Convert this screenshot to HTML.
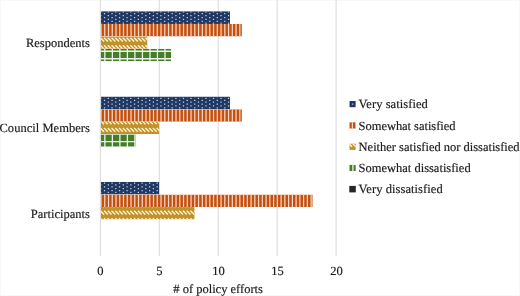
<!DOCTYPE html>
<html><head><meta charset="utf-8">
<style>html,body{margin:0;padding:0;background:#fff;}body{width:520px;height:296px;overflow:hidden;}svg{display:block;will-change:transform;}text{font-family:"Liberation Serif",serif;font-size:12.5px;fill:#1c1c1c;text-rendering:geometricPrecision;stroke:#1c1c1c;stroke-width:0.18px;}</style></head><body>
<svg width="520" height="296" viewBox="0 0 520 296">
<defs><clipPath id="c1"><rect x="100.8" y="11.2" width="129.3" height="12.75"/></clipPath><clipPath id="c2"><rect x="100.8" y="23.95" width="141.1" height="12.45"/></clipPath><clipPath id="c3"><rect x="100.8" y="36.4" width="46.7" height="12.45"/></clipPath><clipPath id="c4"><rect x="100.8" y="48.85" width="70.3" height="12.45"/></clipPath><clipPath id="c5"><rect x="100.8" y="96.53" width="129.3" height="12.75"/></clipPath><clipPath id="c6"><rect x="100.8" y="109.28" width="141.1" height="12.45"/></clipPath><clipPath id="c7"><rect x="100.8" y="121.73" width="58.5" height="12.45"/></clipPath><clipPath id="c8"><rect x="100.8" y="134.18" width="34.9" height="12.45"/></clipPath><clipPath id="c9"><rect x="100.8" y="181.86" width="58.5" height="12.75"/></clipPath><clipPath id="c10"><rect x="100.8" y="194.61" width="211.9" height="12.45"/></clipPath><clipPath id="c11"><rect x="100.8" y="207.06" width="93.9" height="12.45"/></clipPath><clipPath id="c12"><rect x="349.3" y="100.9" width="6.5" height="6.5"/></clipPath><clipPath id="c13"><rect x="349.3" y="122.15" width="6.5" height="6.5"/></clipPath><clipPath id="c14"><rect x="349.3" y="143.4" width="6.5" height="6.5"/></clipPath><clipPath id="c15"><rect x="349.3" y="164.65" width="6.5" height="6.5"/></clipPath><clipPath id="c16"><rect x="349.3" y="185.9" width="6.5" height="6.5"/></clipPath><filter id="bl" x="0" y="0" width="520" height="296" filterUnits="userSpaceOnUse" color-interpolation-filters="sRGB"><feConvolveMatrix order="3" kernelMatrix="0.00000 0.00000 0.00000 0.00000 1.00000 0.00000 0.00000 0.00000 0.00000" edgeMode="none" preserveAlpha="false"/></filter></defs>
<g>
<rect x="0.5" y="0.5" width="519" height="295" fill="none" stroke="#f8f8f8" stroke-width="1"/>
<g stroke="#d9d9d9" stroke-width="1">
<line x1="100.3" y1="0" x2="100.3" y2="256"/>
<line x1="159.25" y1="0" x2="159.25" y2="256"/>
<line x1="218.2" y1="0" x2="218.2" y2="256"/>
<line x1="277.15" y1="0" x2="277.15" y2="256"/>
<line x1="336.1" y1="0" x2="336.1" y2="256"/>
</g>
<g clip-path="url(#c1)">
<rect x="100.8" y="11.2" width="129.3" height="12.75" fill="#1f3864"/>
<path d="M92.64 7.48h1.25v1.25h-1.25zM100.15 7.48h1.25v1.25h-1.25zM107.67 7.48h1.25v1.25h-1.25zM115.18 7.48h1.25v1.25h-1.25zM122.7 7.48h1.25v1.25h-1.25zM130.22 7.48h1.25v1.25h-1.25zM137.73 7.48h1.25v1.25h-1.25zM145.25 7.48h1.25v1.25h-1.25zM152.76 7.48h1.25v1.25h-1.25zM160.28 7.48h1.25v1.25h-1.25zM167.8 7.48h1.25v1.25h-1.25zM175.31 7.48h1.25v1.25h-1.25zM182.83 7.48h1.25v1.25h-1.25zM190.34 7.48h1.25v1.25h-1.25zM197.86 7.48h1.25v1.25h-1.25zM205.38 7.48h1.25v1.25h-1.25zM212.89 7.48h1.25v1.25h-1.25zM220.41 7.48h1.25v1.25h-1.25zM227.92 7.48h1.25v1.25h-1.25zM235.44 7.48h1.25v1.25h-1.25zM96.39 9.36h1.25v1.25h-1.25zM103.91 9.36h1.25v1.25h-1.25zM111.43 9.36h1.25v1.25h-1.25zM118.94 9.36h1.25v1.25h-1.25zM126.46 9.36h1.25v1.25h-1.25zM133.97 9.36h1.25v1.25h-1.25zM141.49 9.36h1.25v1.25h-1.25zM149.01 9.36h1.25v1.25h-1.25zM156.52 9.36h1.25v1.25h-1.25zM164.04 9.36h1.25v1.25h-1.25zM171.56 9.36h1.25v1.25h-1.25zM179.07 9.36h1.25v1.25h-1.25zM186.59 9.36h1.25v1.25h-1.25zM194.1 9.36h1.25v1.25h-1.25zM201.62 9.36h1.25v1.25h-1.25zM209.13 9.36h1.25v1.25h-1.25zM216.65 9.36h1.25v1.25h-1.25zM224.17 9.36h1.25v1.25h-1.25zM231.68 9.36h1.25v1.25h-1.25zM239.2 9.36h1.25v1.25h-1.25zM92.64 11.24h1.25v1.25h-1.25zM100.15 11.24h1.25v1.25h-1.25zM107.67 11.24h1.25v1.25h-1.25zM115.18 11.24h1.25v1.25h-1.25zM122.7 11.24h1.25v1.25h-1.25zM130.22 11.24h1.25v1.25h-1.25zM137.73 11.24h1.25v1.25h-1.25zM145.25 11.24h1.25v1.25h-1.25zM152.76 11.24h1.25v1.25h-1.25zM160.28 11.24h1.25v1.25h-1.25zM167.8 11.24h1.25v1.25h-1.25zM175.31 11.24h1.25v1.25h-1.25zM182.83 11.24h1.25v1.25h-1.25zM190.34 11.24h1.25v1.25h-1.25zM197.86 11.24h1.25v1.25h-1.25zM205.38 11.24h1.25v1.25h-1.25zM212.89 11.24h1.25v1.25h-1.25zM220.41 11.24h1.25v1.25h-1.25zM227.92 11.24h1.25v1.25h-1.25zM235.44 11.24h1.25v1.25h-1.25zM96.39 13.12h1.25v1.25h-1.25zM103.91 13.12h1.25v1.25h-1.25zM111.43 13.12h1.25v1.25h-1.25zM118.94 13.12h1.25v1.25h-1.25zM126.46 13.12h1.25v1.25h-1.25zM133.97 13.12h1.25v1.25h-1.25zM141.49 13.12h1.25v1.25h-1.25zM149.01 13.12h1.25v1.25h-1.25zM156.52 13.12h1.25v1.25h-1.25zM164.04 13.12h1.25v1.25h-1.25zM171.56 13.12h1.25v1.25h-1.25zM179.07 13.12h1.25v1.25h-1.25zM186.59 13.12h1.25v1.25h-1.25zM194.1 13.12h1.25v1.25h-1.25zM201.62 13.12h1.25v1.25h-1.25zM209.13 13.12h1.25v1.25h-1.25zM216.65 13.12h1.25v1.25h-1.25zM224.17 13.12h1.25v1.25h-1.25zM231.68 13.12h1.25v1.25h-1.25zM239.2 13.12h1.25v1.25h-1.25zM92.64 15.01h1.25v1.25h-1.25zM100.15 15.01h1.25v1.25h-1.25zM107.67 15.01h1.25v1.25h-1.25zM115.18 15.01h1.25v1.25h-1.25zM122.7 15.01h1.25v1.25h-1.25zM130.22 15.01h1.25v1.25h-1.25zM137.73 15.01h1.25v1.25h-1.25zM145.25 15.01h1.25v1.25h-1.25zM152.76 15.01h1.25v1.25h-1.25zM160.28 15.01h1.25v1.25h-1.25zM167.8 15.01h1.25v1.25h-1.25zM175.31 15.01h1.25v1.25h-1.25zM182.83 15.01h1.25v1.25h-1.25zM190.34 15.01h1.25v1.25h-1.25zM197.86 15.01h1.25v1.25h-1.25zM205.38 15.01h1.25v1.25h-1.25zM212.89 15.01h1.25v1.25h-1.25zM220.41 15.01h1.25v1.25h-1.25zM227.92 15.01h1.25v1.25h-1.25zM235.44 15.01h1.25v1.25h-1.25zM96.39 16.89h1.25v1.25h-1.25zM103.91 16.89h1.25v1.25h-1.25zM111.43 16.89h1.25v1.25h-1.25zM118.94 16.89h1.25v1.25h-1.25zM126.46 16.89h1.25v1.25h-1.25zM133.97 16.89h1.25v1.25h-1.25zM141.49 16.89h1.25v1.25h-1.25zM149.01 16.89h1.25v1.25h-1.25zM156.52 16.89h1.25v1.25h-1.25zM164.04 16.89h1.25v1.25h-1.25zM171.56 16.89h1.25v1.25h-1.25zM179.07 16.89h1.25v1.25h-1.25zM186.59 16.89h1.25v1.25h-1.25zM194.1 16.89h1.25v1.25h-1.25zM201.62 16.89h1.25v1.25h-1.25zM209.13 16.89h1.25v1.25h-1.25zM216.65 16.89h1.25v1.25h-1.25zM224.17 16.89h1.25v1.25h-1.25zM231.68 16.89h1.25v1.25h-1.25zM239.2 16.89h1.25v1.25h-1.25zM92.64 18.77h1.25v1.25h-1.25zM100.15 18.77h1.25v1.25h-1.25zM107.67 18.77h1.25v1.25h-1.25zM115.18 18.77h1.25v1.25h-1.25zM122.7 18.77h1.25v1.25h-1.25zM130.22 18.77h1.25v1.25h-1.25zM137.73 18.77h1.25v1.25h-1.25zM145.25 18.77h1.25v1.25h-1.25zM152.76 18.77h1.25v1.25h-1.25zM160.28 18.77h1.25v1.25h-1.25zM167.8 18.77h1.25v1.25h-1.25zM175.31 18.77h1.25v1.25h-1.25zM182.83 18.77h1.25v1.25h-1.25zM190.34 18.77h1.25v1.25h-1.25zM197.86 18.77h1.25v1.25h-1.25zM205.38 18.77h1.25v1.25h-1.25zM212.89 18.77h1.25v1.25h-1.25zM220.41 18.77h1.25v1.25h-1.25zM227.92 18.77h1.25v1.25h-1.25zM235.44 18.77h1.25v1.25h-1.25zM96.39 20.65h1.25v1.25h-1.25zM103.91 20.65h1.25v1.25h-1.25zM111.43 20.65h1.25v1.25h-1.25zM118.94 20.65h1.25v1.25h-1.25zM126.46 20.65h1.25v1.25h-1.25zM133.97 20.65h1.25v1.25h-1.25zM141.49 20.65h1.25v1.25h-1.25zM149.01 20.65h1.25v1.25h-1.25zM156.52 20.65h1.25v1.25h-1.25zM164.04 20.65h1.25v1.25h-1.25zM171.56 20.65h1.25v1.25h-1.25zM179.07 20.65h1.25v1.25h-1.25zM186.59 20.65h1.25v1.25h-1.25zM194.1 20.65h1.25v1.25h-1.25zM201.62 20.65h1.25v1.25h-1.25zM209.13 20.65h1.25v1.25h-1.25zM216.65 20.65h1.25v1.25h-1.25zM224.17 20.65h1.25v1.25h-1.25zM231.68 20.65h1.25v1.25h-1.25zM239.2 20.65h1.25v1.25h-1.25zM92.64 22.53h1.25v1.25h-1.25zM100.15 22.53h1.25v1.25h-1.25zM107.67 22.53h1.25v1.25h-1.25zM115.18 22.53h1.25v1.25h-1.25zM122.7 22.53h1.25v1.25h-1.25zM130.22 22.53h1.25v1.25h-1.25zM137.73 22.53h1.25v1.25h-1.25zM145.25 22.53h1.25v1.25h-1.25zM152.76 22.53h1.25v1.25h-1.25zM160.28 22.53h1.25v1.25h-1.25zM167.8 22.53h1.25v1.25h-1.25zM175.31 22.53h1.25v1.25h-1.25zM182.83 22.53h1.25v1.25h-1.25zM190.34 22.53h1.25v1.25h-1.25zM197.86 22.53h1.25v1.25h-1.25zM205.38 22.53h1.25v1.25h-1.25zM212.89 22.53h1.25v1.25h-1.25zM220.41 22.53h1.25v1.25h-1.25zM227.92 22.53h1.25v1.25h-1.25zM235.44 22.53h1.25v1.25h-1.25zM96.39 24.41h1.25v1.25h-1.25zM103.91 24.41h1.25v1.25h-1.25zM111.43 24.41h1.25v1.25h-1.25zM118.94 24.41h1.25v1.25h-1.25zM126.46 24.41h1.25v1.25h-1.25zM133.97 24.41h1.25v1.25h-1.25zM141.49 24.41h1.25v1.25h-1.25zM149.01 24.41h1.25v1.25h-1.25zM156.52 24.41h1.25v1.25h-1.25zM164.04 24.41h1.25v1.25h-1.25zM171.56 24.41h1.25v1.25h-1.25zM179.07 24.41h1.25v1.25h-1.25zM186.59 24.41h1.25v1.25h-1.25zM194.1 24.41h1.25v1.25h-1.25zM201.62 24.41h1.25v1.25h-1.25zM209.13 24.41h1.25v1.25h-1.25zM216.65 24.41h1.25v1.25h-1.25zM224.17 24.41h1.25v1.25h-1.25zM231.68 24.41h1.25v1.25h-1.25zM239.2 24.41h1.25v1.25h-1.25zM92.64 26.29h1.25v1.25h-1.25zM100.15 26.29h1.25v1.25h-1.25zM107.67 26.29h1.25v1.25h-1.25zM115.18 26.29h1.25v1.25h-1.25zM122.7 26.29h1.25v1.25h-1.25zM130.22 26.29h1.25v1.25h-1.25zM137.73 26.29h1.25v1.25h-1.25zM145.25 26.29h1.25v1.25h-1.25zM152.76 26.29h1.25v1.25h-1.25zM160.28 26.29h1.25v1.25h-1.25zM167.8 26.29h1.25v1.25h-1.25zM175.31 26.29h1.25v1.25h-1.25zM182.83 26.29h1.25v1.25h-1.25zM190.34 26.29h1.25v1.25h-1.25zM197.86 26.29h1.25v1.25h-1.25zM205.38 26.29h1.25v1.25h-1.25zM212.89 26.29h1.25v1.25h-1.25zM220.41 26.29h1.25v1.25h-1.25zM227.92 26.29h1.25v1.25h-1.25zM235.44 26.29h1.25v1.25h-1.25zM96.39 28.17h1.25v1.25h-1.25zM103.91 28.17h1.25v1.25h-1.25zM111.43 28.17h1.25v1.25h-1.25zM118.94 28.17h1.25v1.25h-1.25zM126.46 28.17h1.25v1.25h-1.25zM133.97 28.17h1.25v1.25h-1.25zM141.49 28.17h1.25v1.25h-1.25zM149.01 28.17h1.25v1.25h-1.25zM156.52 28.17h1.25v1.25h-1.25zM164.04 28.17h1.25v1.25h-1.25zM171.56 28.17h1.25v1.25h-1.25zM179.07 28.17h1.25v1.25h-1.25zM186.59 28.17h1.25v1.25h-1.25zM194.1 28.17h1.25v1.25h-1.25zM201.62 28.17h1.25v1.25h-1.25zM209.13 28.17h1.25v1.25h-1.25zM216.65 28.17h1.25v1.25h-1.25zM224.17 28.17h1.25v1.25h-1.25zM231.68 28.17h1.25v1.25h-1.25zM239.2 28.17h1.25v1.25h-1.25z" fill="#c8d0e0"/>
</g>
<g clip-path="url(#c2)">
<rect x="100.8" y="23.95" width="141.1" height="12.45" fill="#c3500f"/>
<path d="M92.87 22.95h1.25v14.45h-1.25zM96.62 22.95h1.25v14.45h-1.25zM100.37 22.95h1.25v14.45h-1.25zM104.12 22.95h1.25v14.45h-1.25zM107.88 22.95h1.25v14.45h-1.25zM111.63 22.95h1.25v14.45h-1.25zM115.38 22.95h1.25v14.45h-1.25zM119.13 22.95h1.25v14.45h-1.25zM122.88 22.95h1.25v14.45h-1.25zM126.64 22.95h1.25v14.45h-1.25zM130.39 22.95h1.25v14.45h-1.25zM134.14 22.95h1.25v14.45h-1.25zM137.89 22.95h1.25v14.45h-1.25zM141.64 22.95h1.25v14.45h-1.25zM145.4 22.95h1.25v14.45h-1.25zM149.15 22.95h1.25v14.45h-1.25zM152.9 22.95h1.25v14.45h-1.25zM156.65 22.95h1.25v14.45h-1.25zM160.41 22.95h1.25v14.45h-1.25zM164.16 22.95h1.25v14.45h-1.25zM167.91 22.95h1.25v14.45h-1.25zM171.66 22.95h1.25v14.45h-1.25zM175.41 22.95h1.25v14.45h-1.25zM179.16 22.95h1.25v14.45h-1.25zM182.92 22.95h1.25v14.45h-1.25zM186.67 22.95h1.25v14.45h-1.25zM190.42 22.95h1.25v14.45h-1.25zM194.17 22.95h1.25v14.45h-1.25zM197.93 22.95h1.25v14.45h-1.25zM201.68 22.95h1.25v14.45h-1.25zM205.43 22.95h1.25v14.45h-1.25zM209.18 22.95h1.25v14.45h-1.25zM212.93 22.95h1.25v14.45h-1.25zM216.69 22.95h1.25v14.45h-1.25zM220.44 22.95h1.25v14.45h-1.25zM224.19 22.95h1.25v14.45h-1.25zM227.94 22.95h1.25v14.45h-1.25zM231.69 22.95h1.25v14.45h-1.25zM235.44 22.95h1.25v14.45h-1.25zM239.2 22.95h1.25v14.45h-1.25zM242.95 22.95h1.25v14.45h-1.25zM246.7 22.95h1.25v14.45h-1.25z" fill="#f7d6c4"/>
</g>
<g clip-path="url(#c3)">
<rect x="100.8" y="36.4" width="46.7" height="12.45" fill="#c1922a"/>
<path d="M89.02 22.6L92.78 26.36M92.78 22.6L96.53 26.36M96.53 22.6L100.29 26.36M100.29 22.6L104.05 26.36M104.05 22.6L107.81 26.36M107.81 22.6L111.57 26.36M111.57 22.6L115.32 26.36M115.32 22.6L119.08 26.36M119.08 22.6L122.84 26.36M122.84 22.6L126.6 26.36M126.6 22.6L130.36 26.36M130.36 22.6L134.11 26.36M134.11 22.6L137.87 26.36M137.87 22.6L141.63 26.36M141.63 22.6L145.39 26.36M145.39 22.6L149.15 26.36M149.15 22.6L152.9 26.36M152.9 22.6L156.66 26.36M89.02 30.12L92.78 33.89M92.78 30.12L96.53 33.89M96.53 30.12L100.29 33.89M100.29 30.12L104.05 33.89M104.05 30.12L107.81 33.89M107.81 30.12L111.57 33.89M111.57 30.12L115.32 33.89M115.32 30.12L119.08 33.89M119.08 30.12L122.84 33.89M122.84 30.12L126.6 33.89M126.6 30.12L130.36 33.89M130.36 30.12L134.11 33.89M134.11 30.12L137.87 33.89M137.87 30.12L141.63 33.89M141.63 30.12L145.39 33.89M145.39 30.12L149.15 33.89M149.15 30.12L152.9 33.89M152.9 30.12L156.66 33.89M89.02 37.65L92.78 41.41M92.78 37.65L96.53 41.41M96.53 37.65L100.29 41.41M100.29 37.65L104.05 41.41M104.05 37.65L107.81 41.41M107.81 37.65L111.57 41.41M111.57 37.65L115.32 41.41M115.32 37.65L119.08 41.41M119.08 37.65L122.84 41.41M122.84 37.65L126.6 41.41M126.6 37.65L130.36 41.41M130.36 37.65L134.11 41.41M134.11 37.65L137.87 41.41M137.87 37.65L141.63 41.41M141.63 37.65L145.39 41.41M145.39 37.65L149.15 41.41M149.15 37.65L152.9 41.41M152.9 37.65L156.66 41.41M89.02 45.17L92.78 48.93M92.78 45.17L96.53 48.93M96.53 45.17L100.29 48.93M100.29 45.17L104.05 48.93M104.05 45.17L107.81 48.93M107.81 45.17L111.57 48.93M111.57 45.17L115.32 48.93M115.32 45.17L119.08 48.93M119.08 45.17L122.84 48.93M122.84 45.17L126.6 48.93M126.6 45.17L130.36 48.93M130.36 45.17L134.11 48.93M134.11 45.17L137.87 48.93M137.87 45.17L141.63 48.93M141.63 45.17L145.39 48.93M145.39 45.17L149.15 48.93M149.15 45.17L152.9 48.93M152.9 45.17L156.66 48.93M89.02 52.7L92.78 56.46M92.78 52.7L96.53 56.46M96.53 52.7L100.29 56.46M100.29 52.7L104.05 56.46M104.05 52.7L107.81 56.46M107.81 52.7L111.57 56.46M111.57 52.7L115.32 56.46M115.32 52.7L119.08 56.46M119.08 52.7L122.84 56.46M122.84 52.7L126.6 56.46M126.6 52.7L130.36 56.46M130.36 52.7L134.11 56.46M134.11 52.7L137.87 56.46M137.87 52.7L141.63 56.46M141.63 52.7L145.39 56.46M145.39 52.7L149.15 56.46M149.15 52.7L152.9 56.46M152.9 52.7L156.66 56.46" stroke="#fff4d8" stroke-width="1.4" fill="none"/>
</g>
<g clip-path="url(#c4)">
<rect x="100.8" y="48.85" width="70.3" height="12.45" fill="#457d2a"/>
<path d="M89.17 47.85h1.3v14.45h-1.3zM96.68 47.85h1.3v14.45h-1.3zM104.2 47.85h1.3v14.45h-1.3zM111.72 47.85h1.3v14.45h-1.3zM119.23 47.85h1.3v14.45h-1.3zM126.75 47.85h1.3v14.45h-1.3zM134.26 47.85h1.3v14.45h-1.3zM141.78 47.85h1.3v14.45h-1.3zM149.3 47.85h1.3v14.45h-1.3zM156.81 47.85h1.3v14.45h-1.3zM164.33 47.85h1.3v14.45h-1.3zM171.84 47.85h1.3v14.45h-1.3zM179.36 47.85h1.3v14.45h-1.3zM99.8 35.55h72.3v1.3h-72.3zM99.8 43.08h72.3v1.3h-72.3zM99.8 50.6h72.3v1.3h-72.3zM99.8 58.12h72.3v1.3h-72.3zM99.8 65.65h72.3v1.3h-72.3z" fill="#eef4ea"/>
</g>
<g clip-path="url(#c5)">
<rect x="100.8" y="96.53" width="129.3" height="12.75" fill="#1f3864"/>
<path d="M96.39 92.13h1.25v1.25h-1.25zM103.91 92.13h1.25v1.25h-1.25zM111.43 92.13h1.25v1.25h-1.25zM118.94 92.13h1.25v1.25h-1.25zM126.46 92.13h1.25v1.25h-1.25zM133.97 92.13h1.25v1.25h-1.25zM141.49 92.13h1.25v1.25h-1.25zM149.01 92.13h1.25v1.25h-1.25zM156.52 92.13h1.25v1.25h-1.25zM164.04 92.13h1.25v1.25h-1.25zM171.56 92.13h1.25v1.25h-1.25zM179.07 92.13h1.25v1.25h-1.25zM186.59 92.13h1.25v1.25h-1.25zM194.1 92.13h1.25v1.25h-1.25zM201.62 92.13h1.25v1.25h-1.25zM209.13 92.13h1.25v1.25h-1.25zM216.65 92.13h1.25v1.25h-1.25zM224.17 92.13h1.25v1.25h-1.25zM231.68 92.13h1.25v1.25h-1.25zM239.2 92.13h1.25v1.25h-1.25zM92.64 94.01h1.25v1.25h-1.25zM100.15 94.01h1.25v1.25h-1.25zM107.67 94.01h1.25v1.25h-1.25zM115.18 94.01h1.25v1.25h-1.25zM122.7 94.01h1.25v1.25h-1.25zM130.22 94.01h1.25v1.25h-1.25zM137.73 94.01h1.25v1.25h-1.25zM145.25 94.01h1.25v1.25h-1.25zM152.76 94.01h1.25v1.25h-1.25zM160.28 94.01h1.25v1.25h-1.25zM167.8 94.01h1.25v1.25h-1.25zM175.31 94.01h1.25v1.25h-1.25zM182.83 94.01h1.25v1.25h-1.25zM190.34 94.01h1.25v1.25h-1.25zM197.86 94.01h1.25v1.25h-1.25zM205.38 94.01h1.25v1.25h-1.25zM212.89 94.01h1.25v1.25h-1.25zM220.41 94.01h1.25v1.25h-1.25zM227.92 94.01h1.25v1.25h-1.25zM235.44 94.01h1.25v1.25h-1.25zM96.39 95.89h1.25v1.25h-1.25zM103.91 95.89h1.25v1.25h-1.25zM111.43 95.89h1.25v1.25h-1.25zM118.94 95.89h1.25v1.25h-1.25zM126.46 95.89h1.25v1.25h-1.25zM133.97 95.89h1.25v1.25h-1.25zM141.49 95.89h1.25v1.25h-1.25zM149.01 95.89h1.25v1.25h-1.25zM156.52 95.89h1.25v1.25h-1.25zM164.04 95.89h1.25v1.25h-1.25zM171.56 95.89h1.25v1.25h-1.25zM179.07 95.89h1.25v1.25h-1.25zM186.59 95.89h1.25v1.25h-1.25zM194.1 95.89h1.25v1.25h-1.25zM201.62 95.89h1.25v1.25h-1.25zM209.13 95.89h1.25v1.25h-1.25zM216.65 95.89h1.25v1.25h-1.25zM224.17 95.89h1.25v1.25h-1.25zM231.68 95.89h1.25v1.25h-1.25zM239.2 95.89h1.25v1.25h-1.25zM92.64 97.77h1.25v1.25h-1.25zM100.15 97.77h1.25v1.25h-1.25zM107.67 97.77h1.25v1.25h-1.25zM115.18 97.77h1.25v1.25h-1.25zM122.7 97.77h1.25v1.25h-1.25zM130.22 97.77h1.25v1.25h-1.25zM137.73 97.77h1.25v1.25h-1.25zM145.25 97.77h1.25v1.25h-1.25zM152.76 97.77h1.25v1.25h-1.25zM160.28 97.77h1.25v1.25h-1.25zM167.8 97.77h1.25v1.25h-1.25zM175.31 97.77h1.25v1.25h-1.25zM182.83 97.77h1.25v1.25h-1.25zM190.34 97.77h1.25v1.25h-1.25zM197.86 97.77h1.25v1.25h-1.25zM205.38 97.77h1.25v1.25h-1.25zM212.89 97.77h1.25v1.25h-1.25zM220.41 97.77h1.25v1.25h-1.25zM227.92 97.77h1.25v1.25h-1.25zM235.44 97.77h1.25v1.25h-1.25zM96.39 99.65h1.25v1.25h-1.25zM103.91 99.65h1.25v1.25h-1.25zM111.43 99.65h1.25v1.25h-1.25zM118.94 99.65h1.25v1.25h-1.25zM126.46 99.65h1.25v1.25h-1.25zM133.97 99.65h1.25v1.25h-1.25zM141.49 99.65h1.25v1.25h-1.25zM149.01 99.65h1.25v1.25h-1.25zM156.52 99.65h1.25v1.25h-1.25zM164.04 99.65h1.25v1.25h-1.25zM171.56 99.65h1.25v1.25h-1.25zM179.07 99.65h1.25v1.25h-1.25zM186.59 99.65h1.25v1.25h-1.25zM194.1 99.65h1.25v1.25h-1.25zM201.62 99.65h1.25v1.25h-1.25zM209.13 99.65h1.25v1.25h-1.25zM216.65 99.65h1.25v1.25h-1.25zM224.17 99.65h1.25v1.25h-1.25zM231.68 99.65h1.25v1.25h-1.25zM239.2 99.65h1.25v1.25h-1.25zM92.64 101.53h1.25v1.25h-1.25zM100.15 101.53h1.25v1.25h-1.25zM107.67 101.53h1.25v1.25h-1.25zM115.18 101.53h1.25v1.25h-1.25zM122.7 101.53h1.25v1.25h-1.25zM130.22 101.53h1.25v1.25h-1.25zM137.73 101.53h1.25v1.25h-1.25zM145.25 101.53h1.25v1.25h-1.25zM152.76 101.53h1.25v1.25h-1.25zM160.28 101.53h1.25v1.25h-1.25zM167.8 101.53h1.25v1.25h-1.25zM175.31 101.53h1.25v1.25h-1.25zM182.83 101.53h1.25v1.25h-1.25zM190.34 101.53h1.25v1.25h-1.25zM197.86 101.53h1.25v1.25h-1.25zM205.38 101.53h1.25v1.25h-1.25zM212.89 101.53h1.25v1.25h-1.25zM220.41 101.53h1.25v1.25h-1.25zM227.92 101.53h1.25v1.25h-1.25zM235.44 101.53h1.25v1.25h-1.25zM96.39 103.41h1.25v1.25h-1.25zM103.91 103.41h1.25v1.25h-1.25zM111.43 103.41h1.25v1.25h-1.25zM118.94 103.41h1.25v1.25h-1.25zM126.46 103.41h1.25v1.25h-1.25zM133.97 103.41h1.25v1.25h-1.25zM141.49 103.41h1.25v1.25h-1.25zM149.01 103.41h1.25v1.25h-1.25zM156.52 103.41h1.25v1.25h-1.25zM164.04 103.41h1.25v1.25h-1.25zM171.56 103.41h1.25v1.25h-1.25zM179.07 103.41h1.25v1.25h-1.25zM186.59 103.41h1.25v1.25h-1.25zM194.1 103.41h1.25v1.25h-1.25zM201.62 103.41h1.25v1.25h-1.25zM209.13 103.41h1.25v1.25h-1.25zM216.65 103.41h1.25v1.25h-1.25zM224.17 103.41h1.25v1.25h-1.25zM231.68 103.41h1.25v1.25h-1.25zM239.2 103.41h1.25v1.25h-1.25zM92.64 105.29h1.25v1.25h-1.25zM100.15 105.29h1.25v1.25h-1.25zM107.67 105.29h1.25v1.25h-1.25zM115.18 105.29h1.25v1.25h-1.25zM122.7 105.29h1.25v1.25h-1.25zM130.22 105.29h1.25v1.25h-1.25zM137.73 105.29h1.25v1.25h-1.25zM145.25 105.29h1.25v1.25h-1.25zM152.76 105.29h1.25v1.25h-1.25zM160.28 105.29h1.25v1.25h-1.25zM167.8 105.29h1.25v1.25h-1.25zM175.31 105.29h1.25v1.25h-1.25zM182.83 105.29h1.25v1.25h-1.25zM190.34 105.29h1.25v1.25h-1.25zM197.86 105.29h1.25v1.25h-1.25zM205.38 105.29h1.25v1.25h-1.25zM212.89 105.29h1.25v1.25h-1.25zM220.41 105.29h1.25v1.25h-1.25zM227.92 105.29h1.25v1.25h-1.25zM235.44 105.29h1.25v1.25h-1.25zM96.39 107.17h1.25v1.25h-1.25zM103.91 107.17h1.25v1.25h-1.25zM111.43 107.17h1.25v1.25h-1.25zM118.94 107.17h1.25v1.25h-1.25zM126.46 107.17h1.25v1.25h-1.25zM133.97 107.17h1.25v1.25h-1.25zM141.49 107.17h1.25v1.25h-1.25zM149.01 107.17h1.25v1.25h-1.25zM156.52 107.17h1.25v1.25h-1.25zM164.04 107.17h1.25v1.25h-1.25zM171.56 107.17h1.25v1.25h-1.25zM179.07 107.17h1.25v1.25h-1.25zM186.59 107.17h1.25v1.25h-1.25zM194.1 107.17h1.25v1.25h-1.25zM201.62 107.17h1.25v1.25h-1.25zM209.13 107.17h1.25v1.25h-1.25zM216.65 107.17h1.25v1.25h-1.25zM224.17 107.17h1.25v1.25h-1.25zM231.68 107.17h1.25v1.25h-1.25zM239.2 107.17h1.25v1.25h-1.25zM92.64 109.06h1.25v1.25h-1.25zM100.15 109.06h1.25v1.25h-1.25zM107.67 109.06h1.25v1.25h-1.25zM115.18 109.06h1.25v1.25h-1.25zM122.7 109.06h1.25v1.25h-1.25zM130.22 109.06h1.25v1.25h-1.25zM137.73 109.06h1.25v1.25h-1.25zM145.25 109.06h1.25v1.25h-1.25zM152.76 109.06h1.25v1.25h-1.25zM160.28 109.06h1.25v1.25h-1.25zM167.8 109.06h1.25v1.25h-1.25zM175.31 109.06h1.25v1.25h-1.25zM182.83 109.06h1.25v1.25h-1.25zM190.34 109.06h1.25v1.25h-1.25zM197.86 109.06h1.25v1.25h-1.25zM205.38 109.06h1.25v1.25h-1.25zM212.89 109.06h1.25v1.25h-1.25zM220.41 109.06h1.25v1.25h-1.25zM227.92 109.06h1.25v1.25h-1.25zM235.44 109.06h1.25v1.25h-1.25zM96.39 110.94h1.25v1.25h-1.25zM103.91 110.94h1.25v1.25h-1.25zM111.43 110.94h1.25v1.25h-1.25zM118.94 110.94h1.25v1.25h-1.25zM126.46 110.94h1.25v1.25h-1.25zM133.97 110.94h1.25v1.25h-1.25zM141.49 110.94h1.25v1.25h-1.25zM149.01 110.94h1.25v1.25h-1.25zM156.52 110.94h1.25v1.25h-1.25zM164.04 110.94h1.25v1.25h-1.25zM171.56 110.94h1.25v1.25h-1.25zM179.07 110.94h1.25v1.25h-1.25zM186.59 110.94h1.25v1.25h-1.25zM194.1 110.94h1.25v1.25h-1.25zM201.62 110.94h1.25v1.25h-1.25zM209.13 110.94h1.25v1.25h-1.25zM216.65 110.94h1.25v1.25h-1.25zM224.17 110.94h1.25v1.25h-1.25zM231.68 110.94h1.25v1.25h-1.25zM239.2 110.94h1.25v1.25h-1.25zM92.64 112.82h1.25v1.25h-1.25zM100.15 112.82h1.25v1.25h-1.25zM107.67 112.82h1.25v1.25h-1.25zM115.18 112.82h1.25v1.25h-1.25zM122.7 112.82h1.25v1.25h-1.25zM130.22 112.82h1.25v1.25h-1.25zM137.73 112.82h1.25v1.25h-1.25zM145.25 112.82h1.25v1.25h-1.25zM152.76 112.82h1.25v1.25h-1.25zM160.28 112.82h1.25v1.25h-1.25zM167.8 112.82h1.25v1.25h-1.25zM175.31 112.82h1.25v1.25h-1.25zM182.83 112.82h1.25v1.25h-1.25zM190.34 112.82h1.25v1.25h-1.25zM197.86 112.82h1.25v1.25h-1.25zM205.38 112.82h1.25v1.25h-1.25zM212.89 112.82h1.25v1.25h-1.25zM220.41 112.82h1.25v1.25h-1.25zM227.92 112.82h1.25v1.25h-1.25zM235.44 112.82h1.25v1.25h-1.25z" fill="#c8d0e0"/>
</g>
<g clip-path="url(#c6)">
<rect x="100.8" y="109.28" width="141.1" height="12.45" fill="#c3500f"/>
<path d="M92.87 108.28h1.25v14.45h-1.25zM96.62 108.28h1.25v14.45h-1.25zM100.37 108.28h1.25v14.45h-1.25zM104.12 108.28h1.25v14.45h-1.25zM107.88 108.28h1.25v14.45h-1.25zM111.63 108.28h1.25v14.45h-1.25zM115.38 108.28h1.25v14.45h-1.25zM119.13 108.28h1.25v14.45h-1.25zM122.88 108.28h1.25v14.45h-1.25zM126.64 108.28h1.25v14.45h-1.25zM130.39 108.28h1.25v14.45h-1.25zM134.14 108.28h1.25v14.45h-1.25zM137.89 108.28h1.25v14.45h-1.25zM141.64 108.28h1.25v14.45h-1.25zM145.4 108.28h1.25v14.45h-1.25zM149.15 108.28h1.25v14.45h-1.25zM152.9 108.28h1.25v14.45h-1.25zM156.65 108.28h1.25v14.45h-1.25zM160.41 108.28h1.25v14.45h-1.25zM164.16 108.28h1.25v14.45h-1.25zM167.91 108.28h1.25v14.45h-1.25zM171.66 108.28h1.25v14.45h-1.25zM175.41 108.28h1.25v14.45h-1.25zM179.16 108.28h1.25v14.45h-1.25zM182.92 108.28h1.25v14.45h-1.25zM186.67 108.28h1.25v14.45h-1.25zM190.42 108.28h1.25v14.45h-1.25zM194.17 108.28h1.25v14.45h-1.25zM197.93 108.28h1.25v14.45h-1.25zM201.68 108.28h1.25v14.45h-1.25zM205.43 108.28h1.25v14.45h-1.25zM209.18 108.28h1.25v14.45h-1.25zM212.93 108.28h1.25v14.45h-1.25zM216.69 108.28h1.25v14.45h-1.25zM220.44 108.28h1.25v14.45h-1.25zM224.19 108.28h1.25v14.45h-1.25zM227.94 108.28h1.25v14.45h-1.25zM231.69 108.28h1.25v14.45h-1.25zM235.44 108.28h1.25v14.45h-1.25zM239.2 108.28h1.25v14.45h-1.25zM242.95 108.28h1.25v14.45h-1.25zM246.7 108.28h1.25v14.45h-1.25z" fill="#f7d6c4"/>
</g>
<g clip-path="url(#c7)">
<rect x="100.8" y="121.73" width="58.5" height="12.45" fill="#c1922a"/>
<path d="M89.02 105.36L92.78 109.13M92.78 105.36L96.53 109.13M96.53 105.36L100.29 109.13M100.29 105.36L104.05 109.13M104.05 105.36L107.81 109.13M107.81 105.36L111.57 109.13M111.57 105.36L115.32 109.13M115.32 105.36L119.08 109.13M119.08 105.36L122.84 109.13M122.84 105.36L126.6 109.13M126.6 105.36L130.36 109.13M130.36 105.36L134.11 109.13M134.11 105.36L137.87 109.13M137.87 105.36L141.63 109.13M141.63 105.36L145.39 109.13M145.39 105.36L149.15 109.13M149.15 105.36L152.9 109.13M152.9 105.36L156.66 109.13M156.66 105.36L160.42 109.13M160.42 105.36L164.18 109.13M164.18 105.36L167.94 109.13M89.02 112.89L92.78 116.65M92.78 112.89L96.53 116.65M96.53 112.89L100.29 116.65M100.29 112.89L104.05 116.65M104.05 112.89L107.81 116.65M107.81 112.89L111.57 116.65M111.57 112.89L115.32 116.65M115.32 112.89L119.08 116.65M119.08 112.89L122.84 116.65M122.84 112.89L126.6 116.65M126.6 112.89L130.36 116.65M130.36 112.89L134.11 116.65M134.11 112.89L137.87 116.65M137.87 112.89L141.63 116.65M141.63 112.89L145.39 116.65M145.39 112.89L149.15 116.65M149.15 112.89L152.9 116.65M152.9 112.89L156.66 116.65M156.66 112.89L160.42 116.65M160.42 112.89L164.18 116.65M164.18 112.89L167.94 116.65M89.02 120.41L92.78 124.17M92.78 120.41L96.53 124.17M96.53 120.41L100.29 124.17M100.29 120.41L104.05 124.17M104.05 120.41L107.81 124.17M107.81 120.41L111.57 124.17M111.57 120.41L115.32 124.17M115.32 120.41L119.08 124.17M119.08 120.41L122.84 124.17M122.84 120.41L126.6 124.17M126.6 120.41L130.36 124.17M130.36 120.41L134.11 124.17M134.11 120.41L137.87 124.17M137.87 120.41L141.63 124.17M141.63 120.41L145.39 124.17M145.39 120.41L149.15 124.17M149.15 120.41L152.9 124.17M152.9 120.41L156.66 124.17M156.66 120.41L160.42 124.17M160.42 120.41L164.18 124.17M164.18 120.41L167.94 124.17M89.02 127.94L92.78 131.7M92.78 127.94L96.53 131.7M96.53 127.94L100.29 131.7M100.29 127.94L104.05 131.7M104.05 127.94L107.81 131.7M107.81 127.94L111.57 131.7M111.57 127.94L115.32 131.7M115.32 127.94L119.08 131.7M119.08 127.94L122.84 131.7M122.84 127.94L126.6 131.7M126.6 127.94L130.36 131.7M130.36 127.94L134.11 131.7M134.11 127.94L137.87 131.7M137.87 127.94L141.63 131.7M141.63 127.94L145.39 131.7M145.39 127.94L149.15 131.7M149.15 127.94L152.9 131.7M152.9 127.94L156.66 131.7M156.66 127.94L160.42 131.7M160.42 127.94L164.18 131.7M164.18 127.94L167.94 131.7M89.02 135.46L92.78 139.22M92.78 135.46L96.53 139.22M96.53 135.46L100.29 139.22M100.29 135.46L104.05 139.22M104.05 135.46L107.81 139.22M107.81 135.46L111.57 139.22M111.57 135.46L115.32 139.22M115.32 135.46L119.08 139.22M119.08 135.46L122.84 139.22M122.84 135.46L126.6 139.22M126.6 135.46L130.36 139.22M130.36 135.46L134.11 139.22M134.11 135.46L137.87 139.22M137.87 135.46L141.63 139.22M141.63 135.46L145.39 139.22M145.39 135.46L149.15 139.22M149.15 135.46L152.9 139.22M152.9 135.46L156.66 139.22M156.66 135.46L160.42 139.22M160.42 135.46L164.18 139.22M164.18 135.46L167.94 139.22M89.02 142.98L92.78 146.75M92.78 142.98L96.53 146.75M96.53 142.98L100.29 146.75M100.29 142.98L104.05 146.75M104.05 142.98L107.81 146.75M107.81 142.98L111.57 146.75M111.57 142.98L115.32 146.75M115.32 142.98L119.08 146.75M119.08 142.98L122.84 146.75M122.84 142.98L126.6 146.75M126.6 142.98L130.36 146.75M130.36 142.98L134.11 146.75M134.11 142.98L137.87 146.75M137.87 142.98L141.63 146.75M141.63 142.98L145.39 146.75M145.39 142.98L149.15 146.75M149.15 142.98L152.9 146.75M152.9 142.98L156.66 146.75M156.66 142.98L160.42 146.75M160.42 142.98L164.18 146.75M164.18 142.98L167.94 146.75" stroke="#fff4d8" stroke-width="1.4" fill="none"/>
</g>
<g clip-path="url(#c8)">
<rect x="100.8" y="134.18" width="34.9" height="12.45" fill="#457d2a"/>
<path d="M89.17 133.18h1.3v14.45h-1.3zM96.68 133.18h1.3v14.45h-1.3zM104.2 133.18h1.3v14.45h-1.3zM111.72 133.18h1.3v14.45h-1.3zM119.23 133.18h1.3v14.45h-1.3zM126.75 133.18h1.3v14.45h-1.3zM134.26 133.18h1.3v14.45h-1.3zM141.78 133.18h1.3v14.45h-1.3zM99.8 118.32h36.9v1.3h-36.9zM99.8 125.84h36.9v1.3h-36.9zM99.8 133.36h36.9v1.3h-36.9zM99.8 140.89h36.9v1.3h-36.9zM99.8 148.41h36.9v1.3h-36.9zM99.8 155.94h36.9v1.3h-36.9z" fill="#eef4ea"/>
</g>
<g clip-path="url(#c9)">
<rect x="100.8" y="181.86" width="58.5" height="12.75" fill="#1f3864"/>
<path d="M92.64 176.77h1.25v1.25h-1.25zM100.15 176.77h1.25v1.25h-1.25zM107.67 176.77h1.25v1.25h-1.25zM115.18 176.77h1.25v1.25h-1.25zM122.7 176.77h1.25v1.25h-1.25zM130.22 176.77h1.25v1.25h-1.25zM137.73 176.77h1.25v1.25h-1.25zM145.25 176.77h1.25v1.25h-1.25zM152.76 176.77h1.25v1.25h-1.25zM160.28 176.77h1.25v1.25h-1.25zM167.8 176.77h1.25v1.25h-1.25zM96.39 178.65h1.25v1.25h-1.25zM103.91 178.65h1.25v1.25h-1.25zM111.43 178.65h1.25v1.25h-1.25zM118.94 178.65h1.25v1.25h-1.25zM126.46 178.65h1.25v1.25h-1.25zM133.97 178.65h1.25v1.25h-1.25zM141.49 178.65h1.25v1.25h-1.25zM149.01 178.65h1.25v1.25h-1.25zM156.52 178.65h1.25v1.25h-1.25zM164.04 178.65h1.25v1.25h-1.25zM92.64 180.53h1.25v1.25h-1.25zM100.15 180.53h1.25v1.25h-1.25zM107.67 180.53h1.25v1.25h-1.25zM115.18 180.53h1.25v1.25h-1.25zM122.7 180.53h1.25v1.25h-1.25zM130.22 180.53h1.25v1.25h-1.25zM137.73 180.53h1.25v1.25h-1.25zM145.25 180.53h1.25v1.25h-1.25zM152.76 180.53h1.25v1.25h-1.25zM160.28 180.53h1.25v1.25h-1.25zM167.8 180.53h1.25v1.25h-1.25zM96.39 182.41h1.25v1.25h-1.25zM103.91 182.41h1.25v1.25h-1.25zM111.43 182.41h1.25v1.25h-1.25zM118.94 182.41h1.25v1.25h-1.25zM126.46 182.41h1.25v1.25h-1.25zM133.97 182.41h1.25v1.25h-1.25zM141.49 182.41h1.25v1.25h-1.25zM149.01 182.41h1.25v1.25h-1.25zM156.52 182.41h1.25v1.25h-1.25zM164.04 182.41h1.25v1.25h-1.25zM92.64 184.3h1.25v1.25h-1.25zM100.15 184.3h1.25v1.25h-1.25zM107.67 184.3h1.25v1.25h-1.25zM115.18 184.3h1.25v1.25h-1.25zM122.7 184.3h1.25v1.25h-1.25zM130.22 184.3h1.25v1.25h-1.25zM137.73 184.3h1.25v1.25h-1.25zM145.25 184.3h1.25v1.25h-1.25zM152.76 184.3h1.25v1.25h-1.25zM160.28 184.3h1.25v1.25h-1.25zM167.8 184.3h1.25v1.25h-1.25zM96.39 186.18h1.25v1.25h-1.25zM103.91 186.18h1.25v1.25h-1.25zM111.43 186.18h1.25v1.25h-1.25zM118.94 186.18h1.25v1.25h-1.25zM126.46 186.18h1.25v1.25h-1.25zM133.97 186.18h1.25v1.25h-1.25zM141.49 186.18h1.25v1.25h-1.25zM149.01 186.18h1.25v1.25h-1.25zM156.52 186.18h1.25v1.25h-1.25zM164.04 186.18h1.25v1.25h-1.25zM92.64 188.06h1.25v1.25h-1.25zM100.15 188.06h1.25v1.25h-1.25zM107.67 188.06h1.25v1.25h-1.25zM115.18 188.06h1.25v1.25h-1.25zM122.7 188.06h1.25v1.25h-1.25zM130.22 188.06h1.25v1.25h-1.25zM137.73 188.06h1.25v1.25h-1.25zM145.25 188.06h1.25v1.25h-1.25zM152.76 188.06h1.25v1.25h-1.25zM160.28 188.06h1.25v1.25h-1.25zM167.8 188.06h1.25v1.25h-1.25zM96.39 189.94h1.25v1.25h-1.25zM103.91 189.94h1.25v1.25h-1.25zM111.43 189.94h1.25v1.25h-1.25zM118.94 189.94h1.25v1.25h-1.25zM126.46 189.94h1.25v1.25h-1.25zM133.97 189.94h1.25v1.25h-1.25zM141.49 189.94h1.25v1.25h-1.25zM149.01 189.94h1.25v1.25h-1.25zM156.52 189.94h1.25v1.25h-1.25zM164.04 189.94h1.25v1.25h-1.25zM92.64 191.82h1.25v1.25h-1.25zM100.15 191.82h1.25v1.25h-1.25zM107.67 191.82h1.25v1.25h-1.25zM115.18 191.82h1.25v1.25h-1.25zM122.7 191.82h1.25v1.25h-1.25zM130.22 191.82h1.25v1.25h-1.25zM137.73 191.82h1.25v1.25h-1.25zM145.25 191.82h1.25v1.25h-1.25zM152.76 191.82h1.25v1.25h-1.25zM160.28 191.82h1.25v1.25h-1.25zM167.8 191.82h1.25v1.25h-1.25zM96.39 193.7h1.25v1.25h-1.25zM103.91 193.7h1.25v1.25h-1.25zM111.43 193.7h1.25v1.25h-1.25zM118.94 193.7h1.25v1.25h-1.25zM126.46 193.7h1.25v1.25h-1.25zM133.97 193.7h1.25v1.25h-1.25zM141.49 193.7h1.25v1.25h-1.25zM149.01 193.7h1.25v1.25h-1.25zM156.52 193.7h1.25v1.25h-1.25zM164.04 193.7h1.25v1.25h-1.25zM92.64 195.58h1.25v1.25h-1.25zM100.15 195.58h1.25v1.25h-1.25zM107.67 195.58h1.25v1.25h-1.25zM115.18 195.58h1.25v1.25h-1.25zM122.7 195.58h1.25v1.25h-1.25zM130.22 195.58h1.25v1.25h-1.25zM137.73 195.58h1.25v1.25h-1.25zM145.25 195.58h1.25v1.25h-1.25zM152.76 195.58h1.25v1.25h-1.25zM160.28 195.58h1.25v1.25h-1.25zM167.8 195.58h1.25v1.25h-1.25zM96.39 197.46h1.25v1.25h-1.25zM103.91 197.46h1.25v1.25h-1.25zM111.43 197.46h1.25v1.25h-1.25zM118.94 197.46h1.25v1.25h-1.25zM126.46 197.46h1.25v1.25h-1.25zM133.97 197.46h1.25v1.25h-1.25zM141.49 197.46h1.25v1.25h-1.25zM149.01 197.46h1.25v1.25h-1.25zM156.52 197.46h1.25v1.25h-1.25zM164.04 197.46h1.25v1.25h-1.25z" fill="#c8d0e0"/>
</g>
<g clip-path="url(#c10)">
<rect x="100.8" y="194.61" width="211.9" height="12.45" fill="#c3500f"/>
<path d="M92.87 193.61h1.25v14.45h-1.25zM96.62 193.61h1.25v14.45h-1.25zM100.37 193.61h1.25v14.45h-1.25zM104.12 193.61h1.25v14.45h-1.25zM107.88 193.61h1.25v14.45h-1.25zM111.63 193.61h1.25v14.45h-1.25zM115.38 193.61h1.25v14.45h-1.25zM119.13 193.61h1.25v14.45h-1.25zM122.88 193.61h1.25v14.45h-1.25zM126.64 193.61h1.25v14.45h-1.25zM130.39 193.61h1.25v14.45h-1.25zM134.14 193.61h1.25v14.45h-1.25zM137.89 193.61h1.25v14.45h-1.25zM141.64 193.61h1.25v14.45h-1.25zM145.4 193.61h1.25v14.45h-1.25zM149.15 193.61h1.25v14.45h-1.25zM152.9 193.61h1.25v14.45h-1.25zM156.65 193.61h1.25v14.45h-1.25zM160.41 193.61h1.25v14.45h-1.25zM164.16 193.61h1.25v14.45h-1.25zM167.91 193.61h1.25v14.45h-1.25zM171.66 193.61h1.25v14.45h-1.25zM175.41 193.61h1.25v14.45h-1.25zM179.16 193.61h1.25v14.45h-1.25zM182.92 193.61h1.25v14.45h-1.25zM186.67 193.61h1.25v14.45h-1.25zM190.42 193.61h1.25v14.45h-1.25zM194.17 193.61h1.25v14.45h-1.25zM197.93 193.61h1.25v14.45h-1.25zM201.68 193.61h1.25v14.45h-1.25zM205.43 193.61h1.25v14.45h-1.25zM209.18 193.61h1.25v14.45h-1.25zM212.93 193.61h1.25v14.45h-1.25zM216.69 193.61h1.25v14.45h-1.25zM220.44 193.61h1.25v14.45h-1.25zM224.19 193.61h1.25v14.45h-1.25zM227.94 193.61h1.25v14.45h-1.25zM231.69 193.61h1.25v14.45h-1.25zM235.44 193.61h1.25v14.45h-1.25zM239.2 193.61h1.25v14.45h-1.25zM242.95 193.61h1.25v14.45h-1.25zM246.7 193.61h1.25v14.45h-1.25zM250.45 193.61h1.25v14.45h-1.25zM254.2 193.61h1.25v14.45h-1.25zM257.96 193.61h1.25v14.45h-1.25zM261.71 193.61h1.25v14.45h-1.25zM265.46 193.61h1.25v14.45h-1.25zM269.21 193.61h1.25v14.45h-1.25zM272.97 193.61h1.25v14.45h-1.25zM276.72 193.61h1.25v14.45h-1.25zM280.47 193.61h1.25v14.45h-1.25zM284.22 193.61h1.25v14.45h-1.25zM287.97 193.61h1.25v14.45h-1.25zM291.73 193.61h1.25v14.45h-1.25zM295.48 193.61h1.25v14.45h-1.25zM299.23 193.61h1.25v14.45h-1.25zM302.98 193.61h1.25v14.45h-1.25zM306.73 193.61h1.25v14.45h-1.25zM310.49 193.61h1.25v14.45h-1.25zM314.24 193.61h1.25v14.45h-1.25zM317.99 193.61h1.25v14.45h-1.25z" fill="#f7d6c4"/>
</g>
<g clip-path="url(#c11)">
<rect x="100.8" y="207.06" width="93.9" height="12.45" fill="#c1922a"/>
<path d="M89.02 195.65L92.78 199.41M92.78 195.65L96.53 199.41M96.53 195.65L100.29 199.41M100.29 195.65L104.05 199.41M104.05 195.65L107.81 199.41M107.81 195.65L111.57 199.41M111.57 195.65L115.32 199.41M115.32 195.65L119.08 199.41M119.08 195.65L122.84 199.41M122.84 195.65L126.6 199.41M126.6 195.65L130.36 199.41M130.36 195.65L134.11 199.41M134.11 195.65L137.87 199.41M137.87 195.65L141.63 199.41M141.63 195.65L145.39 199.41M145.39 195.65L149.15 199.41M149.15 195.65L152.9 199.41M152.9 195.65L156.66 199.41M156.66 195.65L160.42 199.41M160.42 195.65L164.18 199.41M164.18 195.65L167.94 199.41M167.94 195.65L171.69 199.41M171.69 195.65L175.45 199.41M175.45 195.65L179.21 199.41M179.21 195.65L182.97 199.41M182.97 195.65L186.73 199.41M186.73 195.65L190.48 199.41M190.48 195.65L194.24 199.41M194.24 195.65L198 199.41M198 195.65L201.76 199.41M89.02 203.18L92.78 206.94M92.78 203.18L96.53 206.94M96.53 203.18L100.29 206.94M100.29 203.18L104.05 206.94M104.05 203.18L107.81 206.94M107.81 203.18L111.57 206.94M111.57 203.18L115.32 206.94M115.32 203.18L119.08 206.94M119.08 203.18L122.84 206.94M122.84 203.18L126.6 206.94M126.6 203.18L130.36 206.94M130.36 203.18L134.11 206.94M134.11 203.18L137.87 206.94M137.87 203.18L141.63 206.94M141.63 203.18L145.39 206.94M145.39 203.18L149.15 206.94M149.15 203.18L152.9 206.94M152.9 203.18L156.66 206.94M156.66 203.18L160.42 206.94M160.42 203.18L164.18 206.94M164.18 203.18L167.94 206.94M167.94 203.18L171.69 206.94M171.69 203.18L175.45 206.94M175.45 203.18L179.21 206.94M179.21 203.18L182.97 206.94M182.97 203.18L186.73 206.94M186.73 203.18L190.48 206.94M190.48 203.18L194.24 206.94M194.24 203.18L198 206.94M198 203.18L201.76 206.94M89.02 210.7L92.78 214.46M92.78 210.7L96.53 214.46M96.53 210.7L100.29 214.46M100.29 210.7L104.05 214.46M104.05 210.7L107.81 214.46M107.81 210.7L111.57 214.46M111.57 210.7L115.32 214.46M115.32 210.7L119.08 214.46M119.08 210.7L122.84 214.46M122.84 210.7L126.6 214.46M126.6 210.7L130.36 214.46M130.36 210.7L134.11 214.46M134.11 210.7L137.87 214.46M137.87 210.7L141.63 214.46M141.63 210.7L145.39 214.46M145.39 210.7L149.15 214.46M149.15 210.7L152.9 214.46M152.9 210.7L156.66 214.46M156.66 210.7L160.42 214.46M160.42 210.7L164.18 214.46M164.18 210.7L167.94 214.46M167.94 210.7L171.69 214.46M171.69 210.7L175.45 214.46M175.45 210.7L179.21 214.46M179.21 210.7L182.97 214.46M182.97 210.7L186.73 214.46M186.73 210.7L190.48 214.46M190.48 210.7L194.24 214.46M194.24 210.7L198 214.46M198 210.7L201.76 214.46M89.02 218.22L92.78 221.99M92.78 218.22L96.53 221.99M96.53 218.22L100.29 221.99M100.29 218.22L104.05 221.99M104.05 218.22L107.81 221.99M107.81 218.22L111.57 221.99M111.57 218.22L115.32 221.99M115.32 218.22L119.08 221.99M119.08 218.22L122.84 221.99M122.84 218.22L126.6 221.99M126.6 218.22L130.36 221.99M130.36 218.22L134.11 221.99M134.11 218.22L137.87 221.99M137.87 218.22L141.63 221.99M141.63 218.22L145.39 221.99M145.39 218.22L149.15 221.99M149.15 218.22L152.9 221.99M152.9 218.22L156.66 221.99M156.66 218.22L160.42 221.99M160.42 218.22L164.18 221.99M164.18 218.22L167.94 221.99M167.94 218.22L171.69 221.99M171.69 218.22L175.45 221.99M175.45 218.22L179.21 221.99M179.21 218.22L182.97 221.99M182.97 218.22L186.73 221.99M186.73 218.22L190.48 221.99M190.48 218.22L194.24 221.99M194.24 218.22L198 221.99M198 218.22L201.76 221.99M89.02 225.75L92.78 229.51M92.78 225.75L96.53 229.51M96.53 225.75L100.29 229.51M100.29 225.75L104.05 229.51M104.05 225.75L107.81 229.51M107.81 225.75L111.57 229.51M111.57 225.75L115.32 229.51M115.32 225.75L119.08 229.51M119.08 225.75L122.84 229.51M122.84 225.75L126.6 229.51M126.6 225.75L130.36 229.51M130.36 225.75L134.11 229.51M134.11 225.75L137.87 229.51M137.87 225.75L141.63 229.51M141.63 225.75L145.39 229.51M145.39 225.75L149.15 229.51M149.15 225.75L152.9 229.51M152.9 225.75L156.66 229.51M156.66 225.75L160.42 229.51M160.42 225.75L164.18 229.51M164.18 225.75L167.94 229.51M167.94 225.75L171.69 229.51M171.69 225.75L175.45 229.51M175.45 225.75L179.21 229.51M179.21 225.75L182.97 229.51M182.97 225.75L186.73 229.51M186.73 225.75L190.48 229.51M190.48 225.75L194.24 229.51M194.24 225.75L198 229.51M198 225.75L201.76 229.51" stroke="#fff4d8" stroke-width="1.4" fill="none"/>
</g>
<g clip-path="url(#c12)">
<rect x="349.3" y="100.9" width="6.5" height="6.5" fill="#1f3864"/>
<path d="M344.42 95.89h1.25v1.25h-1.25zM351.94 95.89h1.25v1.25h-1.25zM359.45 95.89h1.25v1.25h-1.25zM340.66 97.77h1.25v1.25h-1.25zM348.18 97.77h1.25v1.25h-1.25zM355.7 97.77h1.25v1.25h-1.25zM363.21 97.77h1.25v1.25h-1.25zM344.42 99.65h1.25v1.25h-1.25zM351.94 99.65h1.25v1.25h-1.25zM359.45 99.65h1.25v1.25h-1.25zM340.66 101.53h1.25v1.25h-1.25zM348.18 101.53h1.25v1.25h-1.25zM355.7 101.53h1.25v1.25h-1.25zM363.21 101.53h1.25v1.25h-1.25zM344.42 103.41h1.25v1.25h-1.25zM351.94 103.41h1.25v1.25h-1.25zM359.45 103.41h1.25v1.25h-1.25zM340.66 105.29h1.25v1.25h-1.25zM348.18 105.29h1.25v1.25h-1.25zM355.7 105.29h1.25v1.25h-1.25zM363.21 105.29h1.25v1.25h-1.25zM344.42 107.17h1.25v1.25h-1.25zM351.94 107.17h1.25v1.25h-1.25zM359.45 107.17h1.25v1.25h-1.25zM340.66 109.06h1.25v1.25h-1.25zM348.18 109.06h1.25v1.25h-1.25zM355.7 109.06h1.25v1.25h-1.25zM363.21 109.06h1.25v1.25h-1.25zM344.42 110.94h1.25v1.25h-1.25zM351.94 110.94h1.25v1.25h-1.25zM359.45 110.94h1.25v1.25h-1.25z" fill="#c8d0e0"/>
</g>
<g clip-path="url(#c13)">
<rect x="349.3" y="122.15" width="6.5" height="6.5" fill="#c3500f"/>
<path d="M344.25 121.15h1.25v8.5h-1.25zM348 121.15h1.25v8.5h-1.25zM351.76 121.15h1.25v8.5h-1.25zM355.51 121.15h1.25v8.5h-1.25zM359.26 121.15h1.25v8.5h-1.25z" fill="#f7d6c4"/>
</g>
<g clip-path="url(#c14)">
<rect x="349.3" y="143.4" width="6.5" height="6.5" fill="#c1922a"/>
<path d="M337.05 127.94L340.8 131.7M340.8 127.94L344.56 131.7M344.56 127.94L348.32 131.7M348.32 127.94L352.08 131.7M352.08 127.94L355.84 131.7M355.84 127.94L359.59 131.7M359.59 127.94L363.35 131.7M337.05 135.46L340.8 139.22M340.8 135.46L344.56 139.22M344.56 135.46L348.32 139.22M348.32 135.46L352.08 139.22M352.08 135.46L355.84 139.22M355.84 135.46L359.59 139.22M359.59 135.46L363.35 139.22M337.05 142.98L340.8 146.75M340.8 142.98L344.56 146.75M344.56 142.98L348.32 146.75M348.32 142.98L352.08 146.75M352.08 142.98L355.84 146.75M355.84 142.98L359.59 146.75M359.59 142.98L363.35 146.75M337.05 150.51L340.8 154.27M340.8 150.51L344.56 154.27M344.56 150.51L348.32 154.27M348.32 150.51L352.08 154.27M352.08 150.51L355.84 154.27M355.84 150.51L359.59 154.27M359.59 150.51L363.35 154.27M337.05 158.03L340.8 161.79M340.8 158.03L344.56 161.79M344.56 158.03L348.32 161.79M348.32 158.03L352.08 161.79M352.08 158.03L355.84 161.79M355.84 158.03L359.59 161.79M359.59 158.03L363.35 161.79" stroke="#fff4d8" stroke-width="1.4" fill="none"/>
</g>
<g clip-path="url(#c15)">
<rect x="349.3" y="164.65" width="6.5" height="6.5" fill="#457d2a"/>
<path d="M337.2 163.65h1.3v8.5h-1.3zM344.71 163.65h1.3v8.5h-1.3zM352.23 163.65h1.3v8.5h-1.3zM359.74 163.65h1.3v8.5h-1.3zM348.3 148.41h8.5v1.3h-8.5zM348.3 155.94h8.5v1.3h-8.5zM348.3 163.46h8.5v1.3h-8.5zM348.3 170.98h8.5v1.3h-8.5zM348.3 178.51h8.5v1.3h-8.5z" fill="#eef4ea"/>
</g>
<rect x="349.3" y="185.9" width="6.5" height="6.5" fill="#262626"/>
<g text-anchor="end">
<text x="89.8" y="46.8">Respondents</text>
<text x="89.8" y="132.3" textLength="90.3" lengthAdjust="spacing">Council Members</text>
<text x="89.8" y="217.6">Participants</text>
</g>
<g text-anchor="middle">
<text x="100.3" y="275">0</text>
<text x="159.25" y="275">5</text>
<text x="218.5" y="275">10</text>
<text x="277.45" y="275">15</text>
<text x="336.4" y="275">20</text>
<text x="218.1" y="293"># of policy efforts</text>
</g>
<g>
<text x="358.6" y="108.45" textLength="69.19" lengthAdjust="spacing">Very satisfied</text>
<text x="358.6" y="129.7" textLength="96.86" lengthAdjust="spacing">Somewhat satisfied</text>
<text x="358.6" y="150.95" textLength="161.02" lengthAdjust="spacing">Neither satisfied nor dissatisfied</text>
<text x="358.6" y="172.2" textLength="112.04" lengthAdjust="spacing">Somewhat dissatisfied</text>
<text x="358.6" y="193.45" textLength="84.08" lengthAdjust="spacing">Very dissatisfied</text>
</g>
</g>
</svg></body></html>
